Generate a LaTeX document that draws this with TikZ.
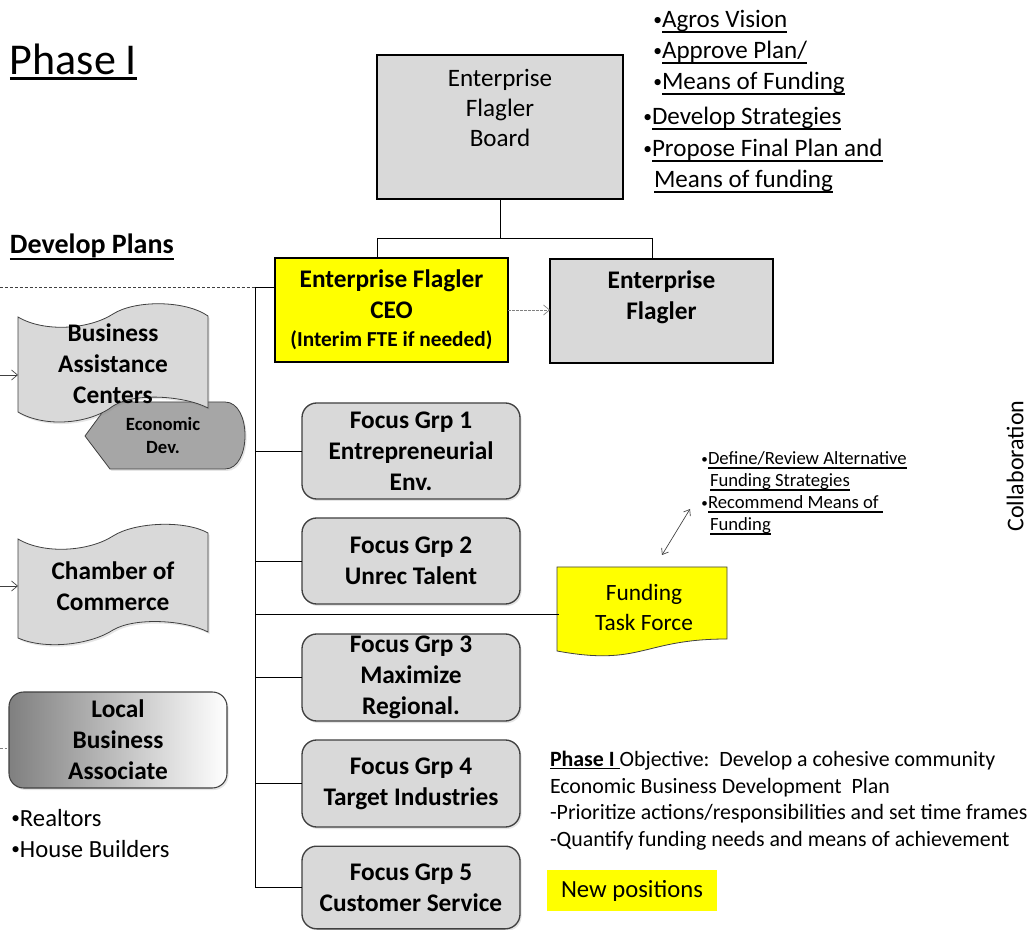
\documentclass[tikz,border=0pt]{standalone}
\usepackage{fontspec}
\setmainfont{Carlito}
\usetikzlibrary{arrows.meta,shadows,calc}
\definecolor{lgray}{HTML}{D9D9D9}
\definecolor{dgray}{HTML}{404040}
\definecolor{mgray}{HTML}{A6A6A6}
\definecolor{yel}{HTML}{FFFF00}
\newsavebox\ulbox
\newcommand\myul[2][0.2em]{\sbox\ulbox{#2}\rlap{\rule[-#1]{\wd\ulbox}{0.07em}}\usebox\ulbox}
\newcommand\bul{\llap{\raisebox{0.1em}{\scalebox{0.7}{•}}}}
\newcommand\fs[2]{\fontsize{#1}{#2}\selectfont}
\newcommand\bfs{\fontsize{19}{23.25}\selectfont\bfseries}
\begin{document}
\begin{tikzpicture}[x=0.75pt,y=-0.75pt,
  every node/.style={inner sep=0pt, outer sep=0pt},
  conn/.style={draw=black, line width=0.6pt},
  gbox/.style={draw=black, line width=1.5pt, fill=lgray},
  fgbox/.style={draw=dgray, line width=1pt, fill=lgray, rounded corners=11pt, minimum width=163.5pt, align=center, font=\bfs, soft shadow},
  soft shadow/.style={drop shadow={opacity=0.2, shadow xshift=1.2pt, shadow yshift=-1.5pt}},
  tapeshape/.style={draw=dgray, line width=0.6pt, fill=lgray, soft shadow},
  barbarrow/.style={draw=dgray, line width=0.5pt, -{Straight Barb[length=4.5pt,width=7.5pt]}},
  txtline/.style={anchor=base west},
]
\fill[white] (0,0) rectangle (1036,930);
\useasboundingbox (0,0) rectangle (1036,930);

% title
\node[txtline, font=\fs{33}{40}] (title) at (10,75) {\myul[0.12em]{Phase I}};

% board
\node[gbox, minimum width=184.5pt, minimum height=108pt] (board) at (500,127) {};
\node[font=\fs{18.8}{22.5}, align=center] (boardtxt) at (500,108) {Enterprise\\Flagler\\Board};

% top-right bullets
\begin{scope}[every node/.append style={txtline, font=\fs{18.8}{22.5}}]
\node (tb1) at (662,28) {\bul\myul{Agros Vision}};
\node (tb2) at (662,59) {\bul\myul{Approve Plan/}};
\node (tb3) at (662,90) {\bul\myul{Means of Funding}};
\node (tb4) at (652,125) {\bul\myul{Develop Strategies}};
\node (tb5) at (652,157) {\bul\myul{Propose Final Plan and}};
\node (tb6) at (654,188) {\myul{Means of funding}};
\end{scope}

% develop plans
\node[txtline, font=\fs{21}{25}\bfseries] (dp) at (10,254) {\myul{Develop Plans}};

% CEO and EF
\node[gbox, fill=yel, minimum width=174.75pt, minimum height=78pt, align=center, font=\bfs] (ceo) at (391.5,310)
  {Enterprise Flagler\\CEO\\[-2.25pt]{\fs{16}{19}\bfseries (Interim FTE if needed)}};
\node[gbox, minimum width=167.25pt, minimum height=78pt, align=center, font=\bfs] (ef) at (661.5,311)
  {Enterprise\\Flagler\\\mbox{}};

\coordinate (jl) at (377,238);
\coordinate (jr) at (652,238);
\coordinate (jm) at (500,238);
\draw[conn] (board.south) -- (jm);
\draw[conn] (jl) -- (jr);
\draw[conn] (jl) -- (jl |- ceo.north);
\draw[conn] (jr) -- (jr |- ef.north);
\draw[barbarrow, draw=gray, dash pattern=on 2pt off 1pt] (ceo.east) -- (ef.west |- ceo.east);

% focus groups
\node[fgbox, minimum height=72pt] (fg1) at (411,451) {Focus Grp 1\\Entrepreneurial\\Env.};
\node[fgbox, minimum height=64.5pt] (fg2) at (411,561) {Focus Grp 2\\Unrec Talent};
\node[fgbox, minimum height=65.25pt] (fg3) at (411,677.5) {Focus Grp 3\\Maximize\\Regional.};
\node[fgbox, minimum height=65.25pt] (fg4) at (411,783.5) {Focus Grp 4\\Target Industries};
\node[fgbox, minimum height=62pt] (fg5) at (411,887.5) {Focus Grp 5\\Customer Service};

% trunk
\coordinate (dl) at (0,287);
\coordinate (vtop) at (255,287);
\draw[draw=dgray, line width=0.6pt, dash pattern=on 2.2pt off 1.5pt] (dl) -- (vtop);
\draw[conn] (vtop) -- (vtop -| ceo.west);
\draw[conn] (vtop) -- (vtop |- fg5.west);
\foreach \n in {fg1,fg2,fg3,fg4,fg5} \draw[conn] (vtop |- \n.west) -- (\n.west);

% funding task force
\draw[draw=dgray, line width=0.6pt, fill=yel] (557,567) -- (727,567) -- (727,639) .. controls (642,639) and (642,666.6) .. (557,651) -- cycle;
\node[font=\fs{17.5}{22.5}, align=center, minimum width=127.5pt, minimum height=54pt] (ftf) at (644,607) {Funding\\Task Force};
\coordinate (fjun) at (255,614);
\draw[conn] (fjun) -- (fjun -| ftf.west);

\coordinate (da1) at (662,555);
\coordinate (da2) at (690,509);
\draw[draw=dgray, line width=0.5pt, {Straight Barb[length=4pt,width=6pt]}-{Straight Barb[length=4pt,width=6pt]}] (da1) -- (da2);

\begin{scope}[every node/.append style={txtline, font=\fs{14}{17}}]
\node (fb1) at (708,465) {\bul\myul{Define/Review Alternative}};
\node (fb2) at (710,487) {\myul{Funding Strategies}};
\node (fb3) at (708,509) {\bul\myul{Recommend Means of }};
\node (fb4) at (710,531) {\myul{Funding}};
\end{scope}

% collaboration
\node[rotate=90, font=\fs{18}{21}] (collab) at (1015,466) {Collaboration};

% economic dev
\draw[draw=dgray, line width=0.6pt, fill=mgray, soft shadow] (85,436) -- (110,402) -- (225,402) .. controls (251.7,402) and (251.7,469) .. (225,469) -- (110,469) -- cycle;

% business assistance centers
\draw[tapeshape] (18,317) .. controls (45,333) and (90,329) .. (113,314) .. controls (135,300) and (185,300) .. (208,316)
  -- (208,408) .. controls (185,396) and (135,392) .. (113,406) .. controls (90,424) and (45,428) .. (18,412) -- cycle;
\node[font=\bfs, align=center, minimum width=142.5pt, minimum height=71pt] (bac) at (113,364) {Business\\Assistance\\Centers};
\node[font=\fs{14}{17.25}\bfseries, align=center] (econ) at (163,436) {Economic\\Dev.};
\coordinate (bacin) at (0,375);
\draw[barbarrow] (bacin) -- (bacin -| bac.west);

% chamber of commerce
\draw[tapeshape] (18,539) .. controls (45,555) and (90,551) .. (113,536) .. controls (135,522) and (185,520) .. (208,533)
  -- (208,632) .. controls (185,620) and (135,617) .. (113,630) .. controls (90,645) and (45,650) .. (18,638) -- cycle;
\node[font=\bfs, align=center, minimum width=142.5pt, minimum height=70pt] (coc) at (113,586) {Chamber of\\Commerce};
\coordinate (cocin) at (0,586);
\draw[barbarrow] (cocin) -- (cocin -| coc.west);

% local business associate
\node[draw=dgray, line width=0.8pt, rounded corners=11pt, left color=black!50, right color=white, minimum width=163.5pt, minimum height=72pt, align=center, font=\bfs, soft shadow] (lba) at (118,740) {Local\\Business\\Associate};
\coordinate (lbain) at (0,748);
\draw[draw=gray, line width=0.5pt, dash pattern=on 2pt off 1.5pt] (lbain) -- (lbain -| lba.west);

\node[txtline, font=\fs{18.5}{22}] (r1) at (20,826) {\bul Realtors};
\node[txtline, font=\fs{18.5}{22}] (r2) at (20,857) {\bul House Builders};

% objective
\begin{scope}[every node/.append style={txtline, font=\fs{16.4}{20}}]
\node (ob1) at (550,766) {\myul[0.15em]{\bfseries Phase I }Objective:~~Develop a cohesive community};
\node (ob2) at (550,793) {Economic Business Development~~Plan};
\node (ob3) at (550,819) {-Prioritize actions/responsibilities and set time frames};
\node (ob4) at (550,846) {-Quantify funding needs and means of achievement};
\end{scope}

\node[fill=yel, minimum width=127.5pt, minimum height=30.75pt, font=\fs{18.5}{22}] (np) at (632,890.5) {New positions};
\end{tikzpicture}
\end{document}
